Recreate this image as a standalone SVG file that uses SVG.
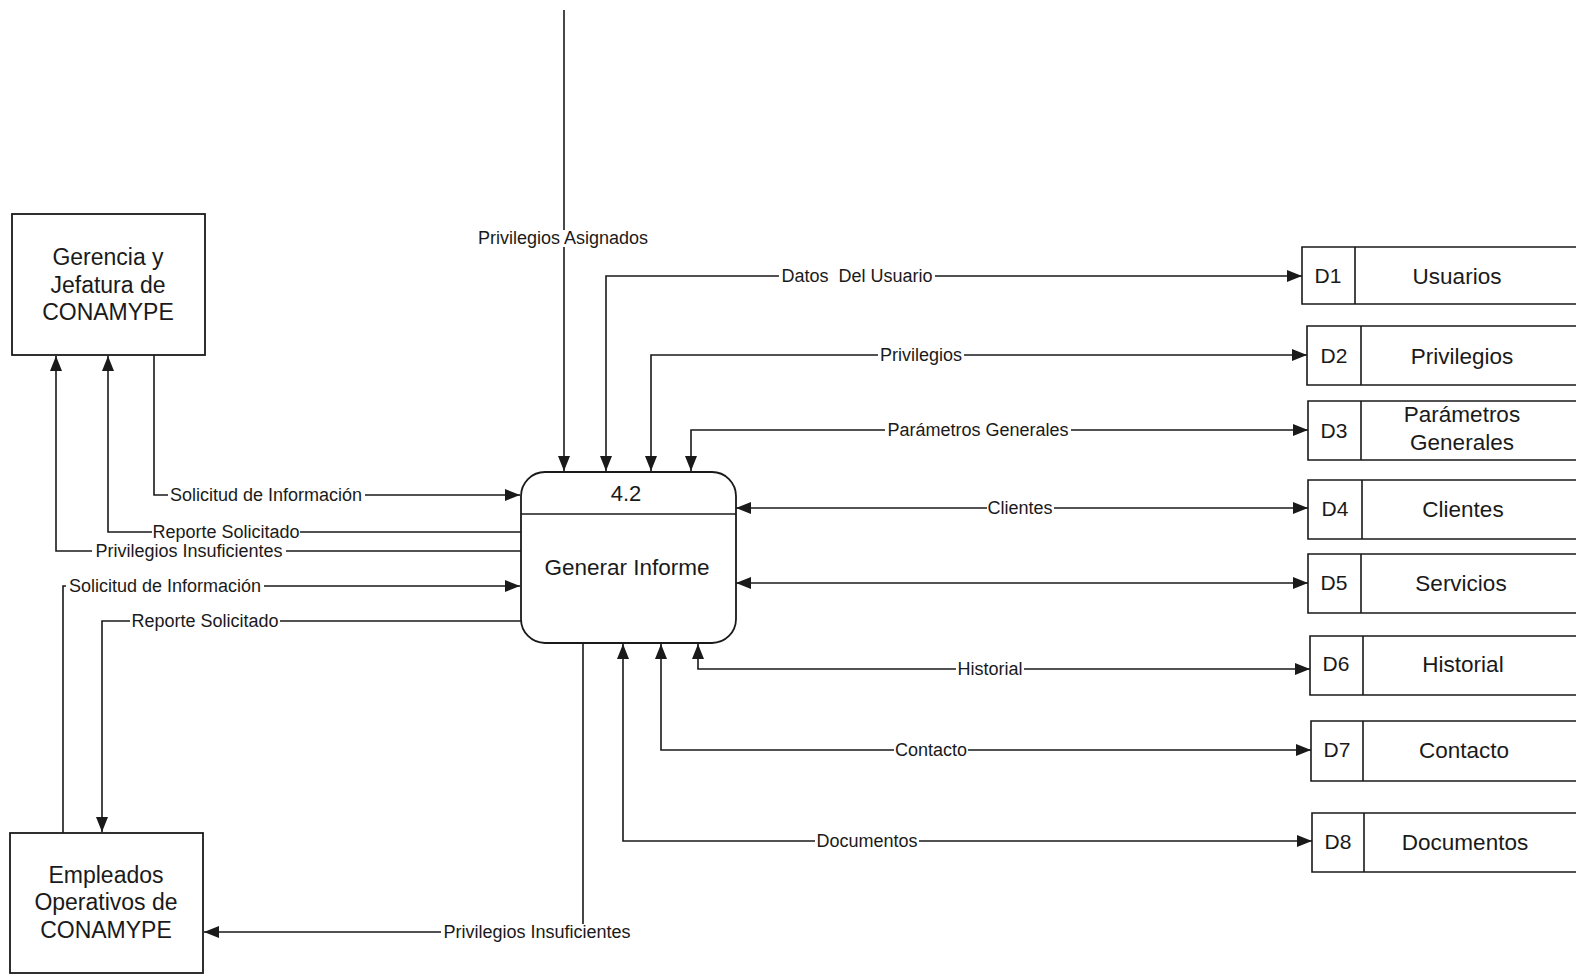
<svg xmlns="http://www.w3.org/2000/svg" width="1576" height="977" viewBox="0 0 1576 977">
<style>
.box{fill:#fff;stroke:#1a1a1a;stroke-width:1.8}
.ln{fill:none;stroke:#1a1a1a;stroke-width:1.6}
.t{font-family:"Liberation Sans",Arial,sans-serif;fill:#1a1a1a;text-anchor:middle}
.ent{font-size:23px}
.st{font-size:22.5px}
.dn{font-size:21px}
.bg{fill:#fff}
.lbl{font-family:"Liberation Sans",Arial,sans-serif;font-size:18px;fill:#1a1a1a;text-anchor:middle;dominant-baseline:central}
</style>
<defs>
<marker id="a" markerUnits="userSpaceOnUse" markerWidth="16" markerHeight="12" refX="15" refY="6" orient="auto-start-reverse">
<path d="M0,0 L15,6 L0,12 z" fill="#1a1a1a"/>
</marker>
</defs>
<rect width="1576" height="977" fill="#fff"/>

<g id="connectors">
<path class="ln" d="M564,10 V471" marker-end="url(#a)"/>
<path class="ln" d="M1302,276 H606 V471" marker-start="url(#a)" marker-end="url(#a)"/>
<path class="ln" d="M1307,355 H651 V471" marker-start="url(#a)" marker-end="url(#a)"/>
<path class="ln" d="M1308,430 H691 V471" marker-start="url(#a)" marker-end="url(#a)"/>
<path class="ln" d="M736,508 H1308" marker-start="url(#a)" marker-end="url(#a)"/>
<path class="ln" d="M736,583 H1308" marker-start="url(#a)" marker-end="url(#a)"/>
<path class="ln" d="M1310,669 H698 V644" marker-start="url(#a)" marker-end="url(#a)"/>
<path class="ln" d="M1311,750 H661 V644" marker-start="url(#a)" marker-end="url(#a)"/>
<path class="ln" d="M1312,841 H623 V644" marker-start="url(#a)" marker-end="url(#a)"/>
<path class="ln" d="M583,643 V932 H204" marker-end="url(#a)"/>
<path class="ln" d="M154,355 V495 H520" marker-end="url(#a)"/>
<path class="ln" d="M521,532 H108 V356" marker-end="url(#a)"/>
<path class="ln" d="M521,551 H56 V356" marker-end="url(#a)"/>
<path class="ln" d="M63,833 V586 H520" marker-end="url(#a)"/>
<path class="ln" d="M521,621 H102 V832" marker-end="url(#a)"/>

<rect class="bg" x="474" y="230" width="178" height="17"/>
<text class="lbl" x="563" y="238">Privilegios Asignados</text>
<rect class="bg" x="779" y="268" width="156" height="16"/>
<text class="lbl" x="857" y="276" xml:space="preserve">Datos  Del Usuario</text>
<rect class="bg" x="878" y="347" width="86" height="16"/>
<text class="lbl" x="921" y="355">Privilegios</text>
<rect class="bg" x="885" y="422" width="186" height="16"/>
<text class="lbl" x="978" y="430">Parámetros Generales</text>
<rect class="bg" x="987" y="500" width="67" height="16"/>
<text class="lbl" x="1020" y="508">Clientes</text>
<rect class="bg" x="956" y="661" width="68" height="16"/>
<text class="lbl" x="990" y="669">Historial</text>
<rect class="bg" x="894" y="742" width="74" height="16"/>
<text class="lbl" x="931" y="750">Contacto</text>
<rect class="bg" x="815" y="833" width="104" height="16"/>
<text class="lbl" x="867" y="841">Documentos</text>
<rect class="bg" x="441" y="924" width="193" height="16"/>
<text class="lbl" x="537" y="932">Privilegios Insuficientes</text>
<rect class="bg" x="168" y="487" width="197" height="16"/>
<text class="lbl" x="266" y="495">Solicitud de Información</text>
<rect class="bg" x="152" y="524" width="148" height="16"/>
<text class="lbl" x="226" y="532">Reporte Solicitado</text>
<rect class="bg" x="92" y="543" width="194" height="16"/>
<text class="lbl" x="189" y="551">Privilegios Insuficientes</text>
<rect class="bg" x="66" y="578" width="198" height="16"/>
<text class="lbl" x="165" y="586">Solicitud de Información</text>
<rect class="bg" x="130" y="613" width="150" height="16"/>
<text class="lbl" x="205" y="621">Reporte Solicitado</text>
</g>

<g id="gerencia">
<rect class="box" x="12" y="214" width="193" height="141"/>
<text class="t ent" x="108" y="265">Gerencia y</text>
<text class="t ent" x="108" y="293">Jefatura de</text>
<text class="t ent" x="108" y="320">CONAMYPE</text>
</g>

<g id="empleados">
<rect class="box" x="10" y="833" width="193" height="140"/>
<text class="t ent" x="106" y="883">Empleados</text>
<text class="t ent" x="106" y="910">Operativos de</text>
<text class="t ent" x="106" y="938">CONAMYPE</text>
</g>

<g id="process">
<rect class="box" x="521" y="472" width="215" height="171" rx="24" ry="24"/>
<line class="ln" x1="521" y1="514" x2="736" y2="514"/>
<text class="t" style="font-size:22px" x="626" y="501">4.2</text>
<text class="t" style="font-size:22.5px" x="627" y="575">Generar Informe</text>
</g>

<g id="D1">
<path class="ln" d="M1576,247 H1302 V304 H1576 M1355,247 V304"/>
<text class="t dn" x="1328" y="283">D1</text>
<text class="t st" x="1457" y="284">Usuarios</text>
</g>
<g id="D2">
<path class="ln" d="M1576,326 H1307 V385 H1576 M1361,326 V385"/>
<text class="t dn" x="1334" y="363">D2</text>
<text class="t st" x="1462" y="364">Privilegios</text>
</g>
<g id="D3">
<path class="ln" d="M1576,401 H1308 V460 H1576 M1361,401 V460"/>
<text class="t dn" x="1334" y="438">D3</text>
<text class="t st" x="1462" y="422">Parámetros</text>
<text class="t st" x="1462" y="450">Generales</text>
</g>
<g id="D4">
<path class="ln" d="M1576,480 H1308 V539 H1576 M1362,480 V539"/>
<text class="t dn" x="1335" y="516">D4</text>
<text class="t st" x="1463" y="517">Clientes</text>
</g>
<g id="D5">
<path class="ln" d="M1576,554 H1308 V613 H1576 M1361,554 V613"/>
<text class="t dn" x="1334" y="590">D5</text>
<text class="t st" x="1461" y="591">Servicios</text>
</g>
<g id="D6">
<path class="ln" d="M1576,636 H1310 V695 H1576 M1363,636 V695"/>
<text class="t dn" x="1336" y="671">D6</text>
<text class="t st" x="1463" y="672">Historial</text>
</g>
<g id="D7">
<path class="ln" d="M1576,721 H1311 V781 H1576 M1363,721 V781"/>
<text class="t dn" x="1337" y="757">D7</text>
<text class="t st" x="1464" y="758">Contacto</text>
</g>
<g id="D8">
<path class="ln" d="M1576,813 H1312 V872 H1576 M1364,813 V872"/>
<text class="t dn" x="1338" y="849">D8</text>
<text class="t st" x="1465" y="850">Documentos</text>
</g>
</svg>
